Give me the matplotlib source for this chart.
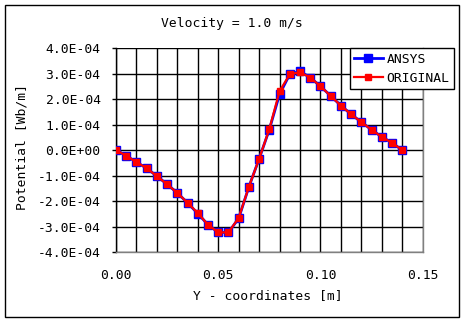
import matplotlib
matplotlib.use('Agg')
import matplotlib.pyplot as plt
from matplotlib.patches import Rectangle
from matplotlib.ticker import FuncFormatter, MultipleLocator

# y-coordinate [m]: 0 .. 0.14, every 0.005
y_coord = [0.000, 0.005, 0.010, 0.015, 0.020, 0.025, 0.030, 0.035, 0.040, 0.045,
           0.050, 0.055, 0.060, 0.065, 0.070, 0.075, 0.080, 0.085, 0.090, 0.095,
           0.100, 0.105, 0.110, 0.115, 0.120, 0.125, 0.130, 0.135, 0.140]
# potential in units of 1e-4 Wb/m
ansys = [0.00, -0.22, -0.47, -0.71, -1.02, -1.34, -1.68, -2.07, -2.49, -2.93,
         -3.23, -3.23, -2.68, -1.44, -0.34, 0.81, 2.20, 2.98, 3.10, 2.85,
         2.51, 2.13, 1.75, 1.41, 1.10, 0.80, 0.52, 0.29, 0.00]
original = [0.00, -0.22, -0.47, -0.71, -1.02, -1.34, -1.68, -2.07, -2.47, -2.93,
            -3.23, -3.23, -2.66, -1.44, -0.34, 0.83, 2.32, 2.98, 3.06, 2.85,
            2.51, 2.13, 1.75, 1.41, 1.10, 0.80, 0.52, 0.29, 0.00]
ansys = [v * 1e-4 for v in ansys]
original = [v * 1e-4 for v in original]

FS = 9.4
plt.rcParams['font.family'] = 'DejaVu Sans Mono'
plt.rcParams['font.size'] = FS

W, H = 465, 323
fig = plt.figure(figsize=(W / 100, H / 100), dpi=100)
ax = fig.add_axes([116 / W, 1 - 252 / H, 306.7 / W, 203.7 / H])

ax.plot(y_coord, ansys, color='#0000ff', lw=2, marker='s', ms=6.2,
        mec='#0000ff', mfc='#0000ff', label='ANSYS', zorder=3)
ax.plot(y_coord, original, color='#ff0000', lw=1.6, marker='s', ms=4.3,
        mec='#ff0000', mfc='#ff0000', label='ORIGINAL', zorder=4)

ax.set_xlim(0, 0.15)
ax.set_ylim(-4e-4, 4e-4)
ax.xaxis.set_major_locator(MultipleLocator(0.05))
ax.xaxis.set_minor_locator(MultipleLocator(0.01))
ax.yaxis.set_major_locator(MultipleLocator(1e-4))
ax.xaxis.set_major_formatter(FuncFormatter(lambda v, p: f'{v:.2f}'))

def sci(v, p):
    s = f'{v:.1E}'
    if abs(v) < 1e-12:
        s = '0.0E+00'
    return s
ax.yaxis.set_major_formatter(FuncFormatter(sci))

ax.grid(which='both', color='black', lw=1)
ax.set_axisbelow(True)
ax.tick_params(axis='x', which='both', length=0, pad=12)
ax.tick_params(axis='y', length=3, width=1, color='black', pad=8)
for s in ['top', 'right', 'bottom']:
    ax.spines[s].set_color('#808080')
ax.spines['top'].set_visible(False)
ax.spines['left'].set_color('black')
for s in ax.spines.values():
    s.set_linewidth(1)

ax.set_xlabel('Y - coordinates [m]')
ax.xaxis.set_label_coords(0.4956, -0.182)
ax.set_ylabel('Potential [Wb/m]')
ax.yaxis.set_label_coords(-0.285, 0.517)

fig.text(231.7 / W, 1 - 23.3 / H, 'Velocity = 1.0 m/s', ha='center', va='center')

leg = ax.legend(loc='upper right', bbox_to_anchor=(454.3 / W, 1 - 48.3 / H),
                bbox_transform=fig.transFigure, borderaxespad=0, fancybox=False,
                edgecolor='black', framealpha=1, handlelength=2.2,
                handletextpad=0.3, labelspacing=0.45, borderpad=0.35)
leg.get_frame().set_linewidth(1)

fig.patches.append(Rectangle((5 / W, 1 - 317.3 / H), 453.7 / W, 312.3 / H,
                             transform=fig.transFigure, fill=False,
                             edgecolor='black', lw=1))

fig.savefig('out.png', dpi=100)
